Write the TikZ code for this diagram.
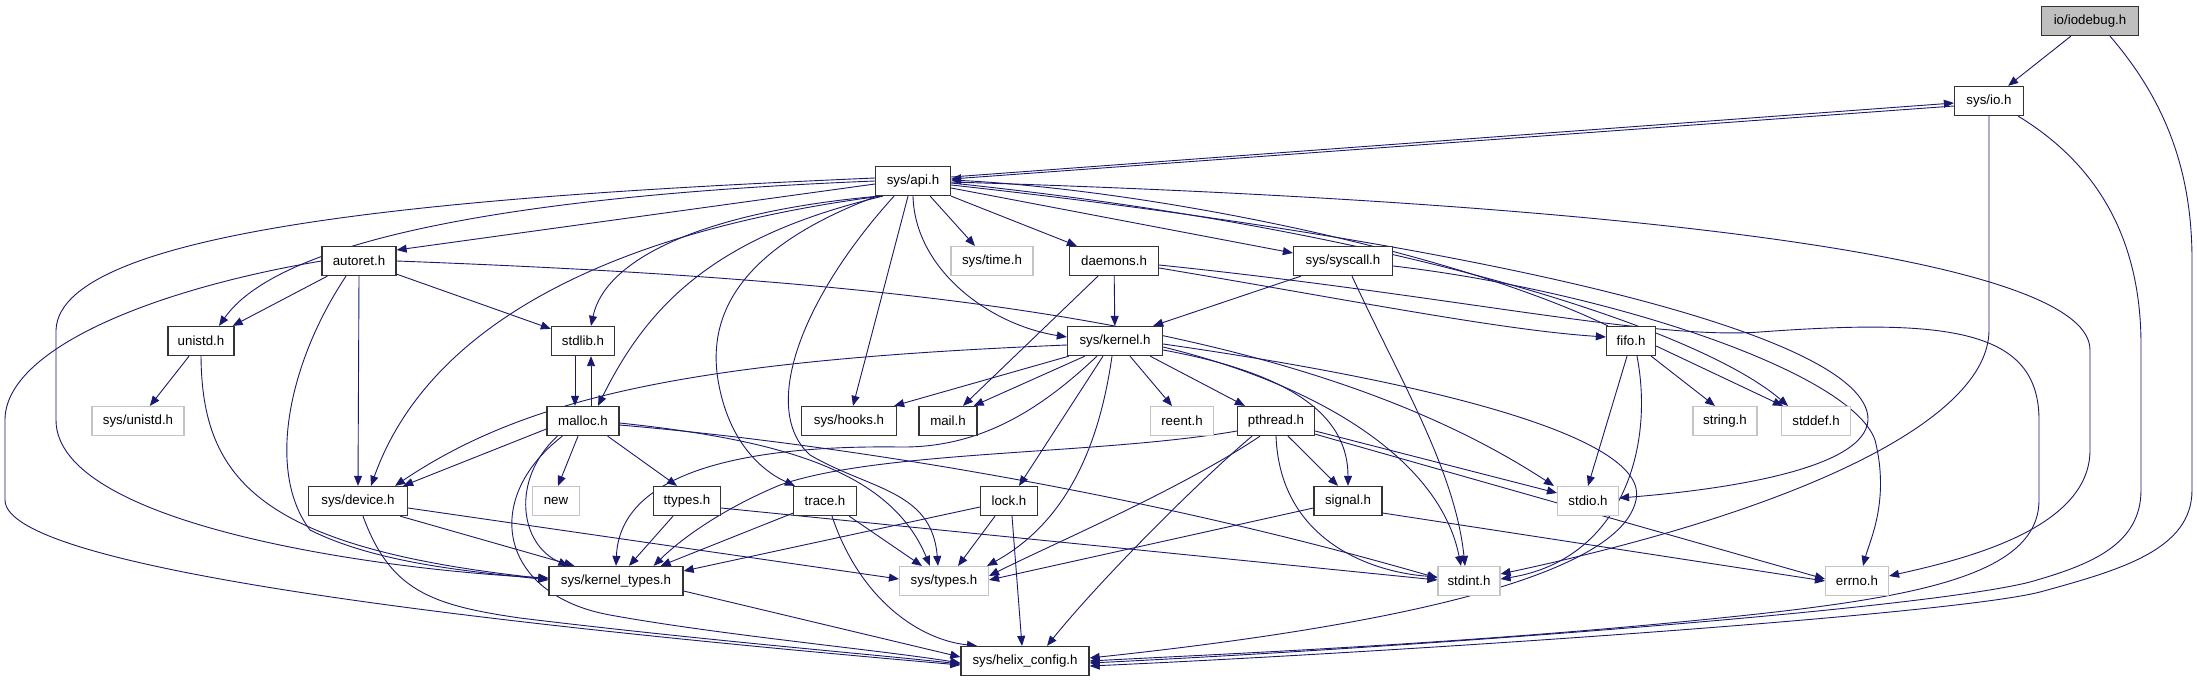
\documentclass[tikz,border=0pt]{standalone}
\usepackage{fontspec}
\setmainfont{Liberation Sans}
\usetikzlibrary{calc,arrows.meta,backgrounds}
\definecolor{edgecol}{HTML}{191970}
\definecolor{boxcol}{HTML}{333333}
\definecolor{extcol}{HTML}{C4C4C4}
\definecolor{rootfill}{HTML}{BFBFBF}
\newcommand\nodefs{\fontsize{13.3}{16}\selectfont}
\tikzset{
  e/.style={draw=edgecol, line width=0.9pt, -{Triangle[length=10pt,width=8pt]}},
  doc/.style={draw=boxcol, line width=1.3pt, fill=white, minimum height=29pt, inner sep=0pt, font=\nodefs},
  ext/.style={draw=extcol, line width=1.1pt, fill=white, minimum height=29pt, inner sep=0pt, font=\nodefs},
  rootnode/.style={doc, fill=rootfill}
}
\begin{document}
\begin{tikzpicture}[x=1pt,y=-1pt]
\path[use as bounding box] (0,0) rectangle (2197,683);
% nodes
\node[rootnode, minimum width=97pt] (iodebug) at (2090,21) {io/iodebug.h};
\node[doc, minimum width=69pt] (io) at (1989,101) {sys/io.h};
\node[doc, minimum width=75pt] (api) at (913,181) {sys/api.h};
\node[doc, minimum width=74pt] (autoret) at (359,261) {autoret.h};
\node[ext, minimum width=82pt] (time) at (992,261) {sys/time.h};
\node[doc, minimum width=89pt] (daemons) at (1114,261) {daemons.h};
\node[doc, minimum width=99pt] (syscall) at (1343,261) {sys/syscall.h};
\node[doc, minimum width=66pt] (unistd) at (201,341) {unistd.h};
\node[doc, minimum width=63pt] (stdlib) at (583,341) {stdlib.h};
\node[doc, minimum width=95pt] (kernel) at (1115,341) {sys/kernel.h};
\node[doc, minimum width=49pt] (fifo) at (1631,341) {fifo.h};
\node[ext, minimum width=92pt] (sysunistd) at (138,421) {sys/unistd.h};
\node[doc, minimum width=72pt] (malloc) at (583,421) {malloc.h};
\node[doc, minimum width=95pt] (hooks) at (849,421) {sys/hooks.h};
\node[doc, minimum width=58pt] (mail) at (948,421) {mail.h};
\node[ext, minimum width=63pt] (reent) at (1182,421) {reent.h};
\node[doc, minimum width=77pt] (pthread) at (1276,421) {pthread.h};
\node[ext, minimum width=64pt] (string) at (1725,421) {string.h};
\node[ext, minimum width=69pt] (stddef) at (1816,421) {stddef.h};
\node[doc, minimum width=99pt] (device) at (358,501) {sys/device.h};
\node[ext, minimum width=47pt] (new) at (556,501) {new};
\node[doc, minimum width=67pt] (ttypes) at (687,501) {ttypes.h};
\node[doc, minimum width=63pt] (trace) at (825,501) {trace.h};
\node[doc, minimum width=57pt] (lock) at (1009,501) {lock.h};
\node[doc, minimum width=68pt] (signal) at (1348,501) {signal.h};
\node[ext, minimum width=61pt] (stdio) at (1588,501) {stdio.h};
\node[doc, minimum width=134pt] (ktypes) at (616,581) {sys/kernel\_types.h};
\node[ext, minimum width=89pt] (types) at (944,581) {sys/types.h};
\node[ext, minimum width=62pt] (stdint) at (1469,581) {stdint.h};
\node[ext, minimum width=63pt] (errno) at (1857,581) {errno.h};
\node[doc, minimum width=128pt] (helix) at (1025,661) {sys/helix\_config.h};
\begin{pgfonlayer}{background}
\fill[white] (0,0) rectangle (2197,683);
% iodebug
\draw[e] (iodebug) -- (io);
\draw[e] ($(iodebug.south)+(20,0)$) .. controls (2165,100) and (2192,170) .. (2192,260) -- (2192,490) .. controls (2192,550) and (2120,570) .. (2040,592) .. controls (1950,615) and (1400,652) .. ($(helix.east)+(0,5)$);
% io
\draw[e] ($(io.west)+(0,5)$) -- ($(api.east)+(0,-2)$);
\draw[e] ($(api.east)+(0,-4)$) -- ($(io.west)+(0,2)$);
\draw[e] (io.south) -- (1989,330) .. controls (1989,420) and (1800,510) .. ($(stdint.east)+(0,-7)$);
\draw[e] ($(io.south east)+(-6,0)$) .. controls (2090,160) and (2141,230) .. (2141,345) -- (2141,490) .. controls (2141,545) and (2090,565) .. (2030,582) .. controls (1920,610) and (1400,648) .. ($(helix.east)+(0,2)$);
% api
\draw[e] ($(api.west)+(0,3)$) -- ($(autoret.east)+(0,-11)$);
\draw[e] (api.west) .. controls (600,192) and (290,225) .. ($(unistd.north)+(18,0)$);
\draw[e] ($(api.west)+(0,-3)$) .. controls (480,195) and (60,225) .. (56,330) -- (56,420) .. controls (56,525) and (380,570) .. ($(ktypes.west)+(0,-3)$);
\draw[e] ($(api.south west)+(4,0)$) .. controls (700,212) and (605,260) .. ($(stdlib.north)+(8,0)$);
\draw[e] ($(api.south west)+(8,0)$) .. controls (720,235) and (650,300) .. ($(malloc.north)+(15,0)$);
\draw[e] ($(api.south west)+(6,0)$) .. controls (620,230) and (430,320) .. ($(device.north)+(13,0)$);
\draw[e] ($(api.south west)+(2,0)$) .. controls (760,240) and (705,300) .. (718,380) .. controls (728,440) and (760,470) .. ($(trace.north west)+(2,0)$);
\draw[e] ($(api.south)+(-19,0)$) .. controls (800,300) and (760,410) .. (810,455) .. controls (870,490) and (932,490) .. ($(types.north)+(-6,0)$);
\draw[e] ($(api.south)+(-5,0)$) -- ($(hooks.north)+(4,0)$);
\draw[e] (api.south) .. controls (915,270) and (990,325) .. ($(kernel.west)+(0,-4)$);
\draw[e] ($(api.south east)+(-21,0)$) -- ($(time.north)+(-17,0)$);
\draw[e] (api.south east) -- ($(daemons.north west)+(8,0)$);
\draw[e] ($(api.east)+(0,7)$) -- ($(syscall.west)+(0,-8)$);
\draw[e] ($(api.east)+(0,2)$) .. controls (1400,230) and (1700,330) .. ($(stddef.north)+(-28,0)$);
\draw[e] ($(api.east)+(0,1)$) .. controls (1550,200) and (2090,250) .. (2090,350) -- (2090,450) .. controls (2090,530) and (1960,560) .. ($(errno.east)+(0,-5)$);
\draw[e] ($(api.east)+(0,4)$) .. controls (1450,240) and (1870,330) .. (1868,420) .. controls (1865,470) and (1720,490) .. ($(stdio.east)+(0,-3)$);
% autoret
\draw[e] ($(autoret.south west)+(6,0)$) -- ($(unistd.north east)+(-2,0)$);
\draw[e] ($(autoret.south east)+(0,-2)$) -- ($(stdlib.north west)+(0,3)$);
\draw[e] (autoret.south) -- (device.north);
\draw[e] ($(autoret.south)+(-13,0)$) .. controls (290,360) and (265,470) .. (310,530) .. controls (380,565) and (480,572) .. ($(ktypes.west)+(0,-1)$);
\draw[e] (autoret.west) .. controls (150,290) and (5,350) .. (5,420) -- (5,500) .. controls (5,570) and (500,625) .. ($(helix.west)+(0,4)$);
\draw[e] (autoret.east) .. controls (900,280) and (1300,320) .. ($(stdio.north west)+(-3,0)$);
% unistd
\draw[e] (unistd) -- (sysunistd);
\draw[e] (unistd.south) .. controls (202,480) and (260,548) .. ($(ktypes.west)+(0,-2)$);
% stdlib / malloc
\draw[e] ($(stdlib.south)+(-8,0)$) -- ($(malloc.north)+(-8,0)$);
\draw[e] ($(malloc.north)+(8,0)$) -- ($(stdlib.south)+(8,0)$);
\draw[e] ($(malloc.west)+(0,8)$) -- ($(device.north east)+(-5,0)$);
\draw[e] ($(malloc.south)+(-5,0)$) -- ($(new.north)+(2,0)$);
\draw[e] ($(malloc.south east)+(-12,0)$) -- ($(ttypes.north)+(-10,0)$);
\draw[e] ($(malloc.south west)+(11,0)$) .. controls (510,480) and (520,545) .. ($(ktypes.north west)+(20,0)$);
\draw[e] ($(malloc.south west)+(16,0)$) .. controls (480,500) and (500,595) .. (610,615) .. controls (720,635) and (880,650) .. ($(helix.west)+(0,2)$);
\draw[e] ($(malloc.east)+(0,2)$) .. controls (780,440) and (890,470) .. ($(types.north)+(-14,0)$);
\draw[e] ($(malloc.east)+(0,4)$) .. controls (850,445) and (1150,495) .. ($(stdint.west)+(0,-3)$);
% device
\draw[e] ($(device.south east)+(-8,0)$) -- ($(ktypes.north west)+(26,0)$);
\draw[e] ($(device.east)+(0,7)$) -- ($(types.west)+(0,-2)$);
\draw[e] ($(device.south)+(5,0)$) .. controls (390,590) and (430,605) .. (520,618) .. controls (700,640) and (880,655) .. ($(helix.west)+(0,3)$);
% ttypes
\draw[e] ($(ttypes.south)+(-14,0)$) -- ($(ktypes.north)+(13,0)$);
\draw[e] ($(ttypes.east)+(0,7)$) -- ($(stdint.west)+(0,-1)$);
% trace
\draw[e] ($(trace.south west)+(0,-3)$) -- ($(ktypes.north east)+(-23,0)$);
\draw[e] ($(trace.south east)+(-8,0)$) -- ($(types.north)+(-22,0)$);
\draw[e] ($(trace.south)+(7,0)$) .. controls (860,600) and (920,640) .. ($(helix.north)+(-48,0)$);
% lock
\draw[e] ($(lock.west)+(0,6)$) -- ($(ktypes.east)+(0,-10)$);
\draw[e] ($(lock.south)+(-14,0)$) -- ($(types.north)+(14,0)$);
\draw[e] ($(lock.south)+(3,0)$) -- ($(helix.north)+(-3,0)$);
% kernel
\draw[e] ($(kernel.west)+(0,4)$) .. controls (700,360) and (530,395) .. ($(device.north)+(37,0)$);
\draw[e] ($(kernel.south west)+(2,0)$) -- ($(hooks.north east)+(-3,0)$);
\draw[e] ($(kernel.south west)+(18,0)$) -- ($(mail.north east)+(-4,0)$);
\draw[e] ($(kernel.south)+(15,0)$) -- ($(reent.north)+(-10,0)$);
\draw[e] ($(kernel.south east)+(-13,0)$) -- ($(pthread.north west)+(8,0)$);
\draw[e] ($(kernel.south)+(-12,0)$) -- ($(lock.north)+(10,0)$);
\draw[e] ($(kernel.south)+(-3,0)$) .. controls (1100,440) and (1070,520) .. ($(types.north east)+(-2,0)$);
\draw[e] ($(kernel.south)+(-18,0)$) .. controls (1040,410) and (980,448) .. (900,447) .. controls (750,445) and (620,470) .. (ktypes.north);
\draw[e] ($(kernel.east)+(0,9)$) .. controls (1300,375) and (1348,420) .. (signal.north);
\draw[e] ($(kernel.east)+(0,6)$) .. controls (1320,385) and (1440,460) .. ($(stdint.north)+(-8,0)$);
\draw[e] ($(kernel.east)+(0,3)$) .. controls (1450,385) and (1650,440) .. (1636,500) .. controls (1620,575) and (1400,625) .. ($(helix.east)+(0,-3)$);
% daemons
\draw[e] (daemons) -- (kernel);
\draw[e] ($(daemons.south)+(-16,0)$) -- ($(mail.north)+(15,0)$);
\draw[e] ($(daemons.east)+(0,4)$) .. controls (1450,295) and (1650,340) .. (1760,332) .. controls (1950,318) and (2039,330) .. (2039,420) -- (2039,500) .. controls (2039,580) and (1900,600) .. (1700,620) .. controls (1450,645) and (1200,655) .. (helix.east);
\draw[e] ($(daemons.east)+(0,7)$) .. controls (1350,300) and (1500,330) .. ($(fifo.west)+(0,-4)$);
% syscall
\draw[e] ($(syscall.south west)+(8,0)$) -- ($(kernel.north east)+(-10,0)$);
\draw[e] ($(syscall.south)+(9,0)$) .. controls (1400,380) and (1455,470) .. ($(stdint.north)+(-4,0)$);
\draw[e] ($(syscall.east)+(0,5)$) .. controls (1600,290) and (1850,370) .. (1875,440) .. controls (1890,500) and (1870,540) .. ($(errno.north)+(6,0)$);
% pthread
\draw[e] ($(pthread.south)+(12,0)$) -- ($(signal.north)+(-10,0)$);
\draw[e] ($(pthread.south)+(-16,0)$) .. controls (1180,490) and (1050,545) .. ($(types.east)+(0,-5)$);
\draw[e] ($(pthread.south)+(-24,0)$) .. controls (1200,480) and (1100,580) .. ($(helix.north)+(22,0)$);
\draw[e] (pthread.south) .. controls (1280,540) and (1370,572) .. ($(stdint.west)+(0,-4)$);
\draw[e] ($(pthread.east)+(0,10)$) -- ($(stdio.west)+(0,-8)$);
\draw[e] ($(pthread.south east)+(0,-2)$) -- ($(errno.west)+(0,-2)$);
\draw[e] ($(pthread.west)+(0,10)$) .. controls (1100,455) and (880,450) .. (780,485) .. controls (720,510) and (680,540) .. ($(ktypes.north east)+(-30,0)$);
% signal
\draw[e] ($(signal.west)+(0,7)$) -- ($(types.east)+(0,-1)$);
\draw[e] ($(signal.east)+(0,12)$) -- (errno.west);
% fifo
\draw[e] ($(fifo.north west)+(2,0)$) .. controls (1450,250) and (1150,190) .. ($(api.east)+(0,-1)$);
\draw[e] ($(fifo.south east)+(-5,0)$) -- ($(string.north)+(-10,0)$);
\draw[e] ($(fifo.east)+(0,5)$) -- ($(stddef.north west)+(2,0)$);
\draw[e] ($(fifo.south)+(-4,0)$) -- (stdio.north);
\draw[e] ($(fifo.south)+(6,0)$) .. controls (1655,450) and (1620,560) .. ($(stdint.east)+(0,-2)$);
% kernel_types
\draw[e] ($(ktypes.east)+(0,10)$) -- ($(helix.west)+(0,-4)$);
\end{pgfonlayer}
\end{tikzpicture}
\end{document}
